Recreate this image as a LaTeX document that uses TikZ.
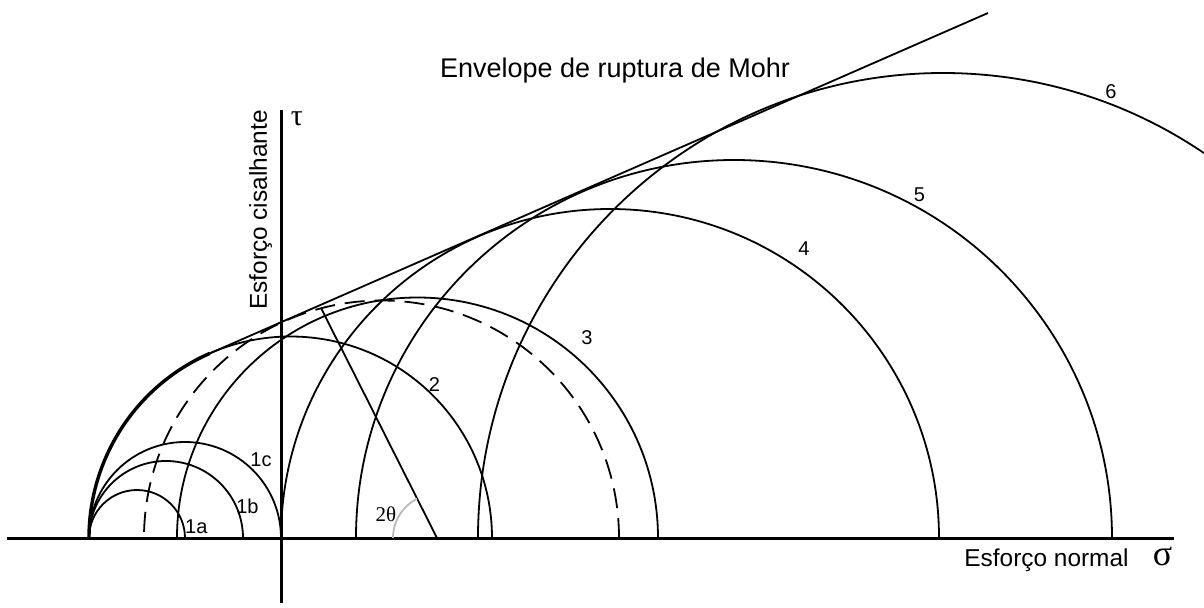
\documentclass[tikz,border=0pt]{standalone}
\usepackage{fontspec}
\setmainfont{Liberation Sans}
\newfontfamily\gregas{Liberation Serif}
\usetikzlibrary{calc}
\begin{document}
\begin{tikzpicture}[x=0.5pt,y=0.5pt,line width=0.9pt,
  eixo/.style={line width=1.5pt},
  envol/.style={line width=1.7pt},
  numero/.style={font=\fontsize{10}{11}\selectfont},
  legenda/.style={font=\fontsize{12.2}{14}\selectfont}]
  \useasboundingbox (-281,-69) rectangle (923,538);

  % 坐标轴
  \coordinate (O) at (0,0);
  \draw[eixo] (-274,0) -- (893,0);
  \draw[eixo] (0,-65) -- (0,428);
  \node[legenda,anchor=base] (normal) at (765.5,-28.7) {Esforço normal};
  \node[anchor=base,inner sep=0pt] (sigma) at (881.5,-27) {\gregas\fontsize{18}{20}\selectfont σ};
  \node[anchor=base west,inner sep=0pt] (tau) at (9,413) {\gregas\fontsize{15}{16}\selectfont τ};
  \node[legenda,rotate=90,anchor=base] (cisalhante) at (-14,328) {Esforço cisalhante};

  % 莫尔圆
  \foreach \c/\r in {-144/48,-115/77,-96/96,9.5/201.5,136.5/240.5,329/329,453/378}
    \draw (\c+\r,0) arc[start angle=0,end angle=180,radius=\r];
  \draw[dashed,dash pattern=on 10pt off 5pt] (338,0) arc[start angle=0,end angle=180,radius=237.5];
  \begin{scope}
    \clip (-281,-69) rectangle (923,538);
    \draw (1127,0) arc[start angle=0,end angle=180,radius=465];
  \end{scope}

  % 包络线
  \coordinate (T) at ($(9.5,0)+(113.6:201.5)$);
  \coordinate (E) at (707,525);
  \draw[envol] (-192,0) arc[start angle=180,end angle=113.6,radius=201.5];
  \draw (T) -- (E);
  \node[anchor=base,font=\fontsize{13.5}{15}\selectfont] (envelope) at (334,460.7) {Envelope de ruptura de Mohr};

  % 2θ
  \coordinate (P) at (40,230);
  \coordinate (Q) at (156,0);
  \draw (P) -- (Q);
  \draw[gray!55] (112,0) arc[start angle=180,end angle=117,radius=44];
  \node (angulo) at (105,24) {\gregas\fontsize{10.5}{12}\selectfont 2θ};

  % 编号
  \node[numero] (n1a) at (-84.7,11) {1a};
  \node[numero] (n1b) at (-33.5,32) {1b};
  \node[numero] (n1c) at (-20,78) {1c};
  \node[numero] (n2) at (153.5,153) {2};
  \node[numero] (n3) at (306,200.5) {3};
  \node[numero] (n4) at (523,289) {4};
  \node[numero] (n5) at (638.5,343.7) {5};
  \node[numero] (n6) at (830,446) {6};
\end{tikzpicture}
\end{document}
